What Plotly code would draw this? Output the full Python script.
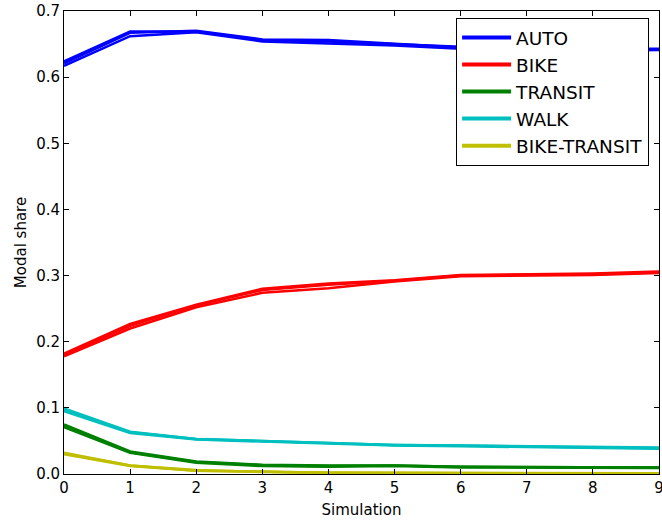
import plotly.graph_objects as go

simulation = [0, 1, 2, 3, 4, 5, 6, 7, 8, 9]

auto_run1 = [0.617, 0.662, 0.668, 0.654, 0.651, 0.648, 0.643, 0.641, 0.640, 0.641]
auto_run2 = [0.621, 0.667, 0.670, 0.657, 0.656, 0.651, 0.645, 0.643, 0.642, 0.643]
auto_run3 = [0.624, 0.669, 0.669, 0.656, 0.654, 0.650, 0.646, 0.644, 0.643, 0.642]

bike_run1 = [0.178, 0.220, 0.252, 0.274, 0.281, 0.291, 0.299, 0.300, 0.301, 0.304]
bike_run2 = [0.180, 0.224, 0.255, 0.278, 0.286, 0.292, 0.300, 0.301, 0.302, 0.305]
bike_run3 = [0.182, 0.227, 0.256, 0.280, 0.288, 0.293, 0.301, 0.302, 0.303, 0.306]

transit_run1 = [0.071, 0.032, 0.017, 0.012, 0.011, 0.012, 0.010, 0.010, 0.009, 0.009]
transit_run2 = [0.073, 0.033, 0.018, 0.013, 0.012, 0.013, 0.011, 0.011, 0.010, 0.010]
transit_run3 = [0.075, 0.034, 0.019, 0.014, 0.013, 0.013, 0.011, 0.011, 0.011, 0.010]

walk_run1 = [0.095, 0.062, 0.052, 0.049, 0.046, 0.043, 0.042, 0.041, 0.039, 0.038]
walk_run2 = [0.097, 0.063, 0.053, 0.050, 0.047, 0.044, 0.043, 0.042, 0.040, 0.039]
walk_run3 = [0.099, 0.064, 0.053, 0.050, 0.047, 0.044, 0.043, 0.042, 0.041, 0.040]

bike_transit_run1 = [0.030, 0.012, 0.005, 0.003, 0.002, 0.001, 0.001, 0.001, 0.001, 0.001]
bike_transit_run2 = [0.031, 0.013, 0.005, 0.003, 0.002, 0.002, 0.001, 0.001, 0.001, 0.001]
bike_transit_run3 = [0.032, 0.013, 0.006, 0.003, 0.002, 0.002, 0.002, 0.001, 0.001, 0.001]

modes = ["AUTO", "BIKE", "TRANSIT", "WALK", "BIKE-TRANSIT"]
colors = ["#0000ff", "#ff0000", "#008000", "#00bfbf", "#bfbf00"]
runs = {
    "AUTO": [auto_run1, auto_run2, auto_run3],
    "BIKE": [bike_run1, bike_run2, bike_run3],
    "TRANSIT": [transit_run1, transit_run2, transit_run3],
    "WALK": [walk_run1, walk_run2, walk_run3],
    "BIKE-TRANSIT": [bike_transit_run1, bike_transit_run2, bike_transit_run3],
}

fig = go.Figure()
for mode, color in zip(modes, colors):
    for r in runs[mode]:
        fig.add_trace(go.Scatter(x=simulation, y=r, mode="lines",
                                 line=dict(color=color, width=2.5),
                                 showlegend=False, hoverinfo="skip",
                                 cliponaxis=False))
for mode, color in zip(modes, colors):
    fig.add_trace(go.Scatter(x=[None], y=[None], mode="lines", name=mode,
                             line=dict(color=color, width=4)))

axis_common = dict(showline=True, linecolor="black", linewidth=1, mirror="ticks",
                   ticks="inside", ticklen=5, tickcolor="black", showgrid=False,
                   zeroline=False, tickfont=dict(size=15, color="black"),
                   automargin=False, ticklabeloverflow="allow")

fig.update_layout(
    width=662, height=523,
    margin=dict(l=64, r=3, t=11, b=49),
    paper_bgcolor="white", plot_bgcolor="white",
    font=dict(family="DejaVu Sans", color="black"),
    xaxis=dict(range=[0, 9], dtick=1, tick0=0,
               title=dict(text="Simulation", font=dict(size=15), standoff=8),
               **axis_common),
    yaxis=dict(range=[0, 0.7], dtick=0.1, tick0=0, tickformat=".1f",
               title=dict(text="Modal share", font=dict(size=15), standoff=5),
               **axis_common),
    legend=dict(x=0.659, y=0.985, xanchor="left", yanchor="top",
                bgcolor="white", bordercolor="black", borderwidth=1,
                font=dict(size=18.5), itemwidth=49, tracegroupgap=0),
)

fig.write_html("out.html", config={"displayModeBar": False},
               post_script="document.body.style.margin='0';")
